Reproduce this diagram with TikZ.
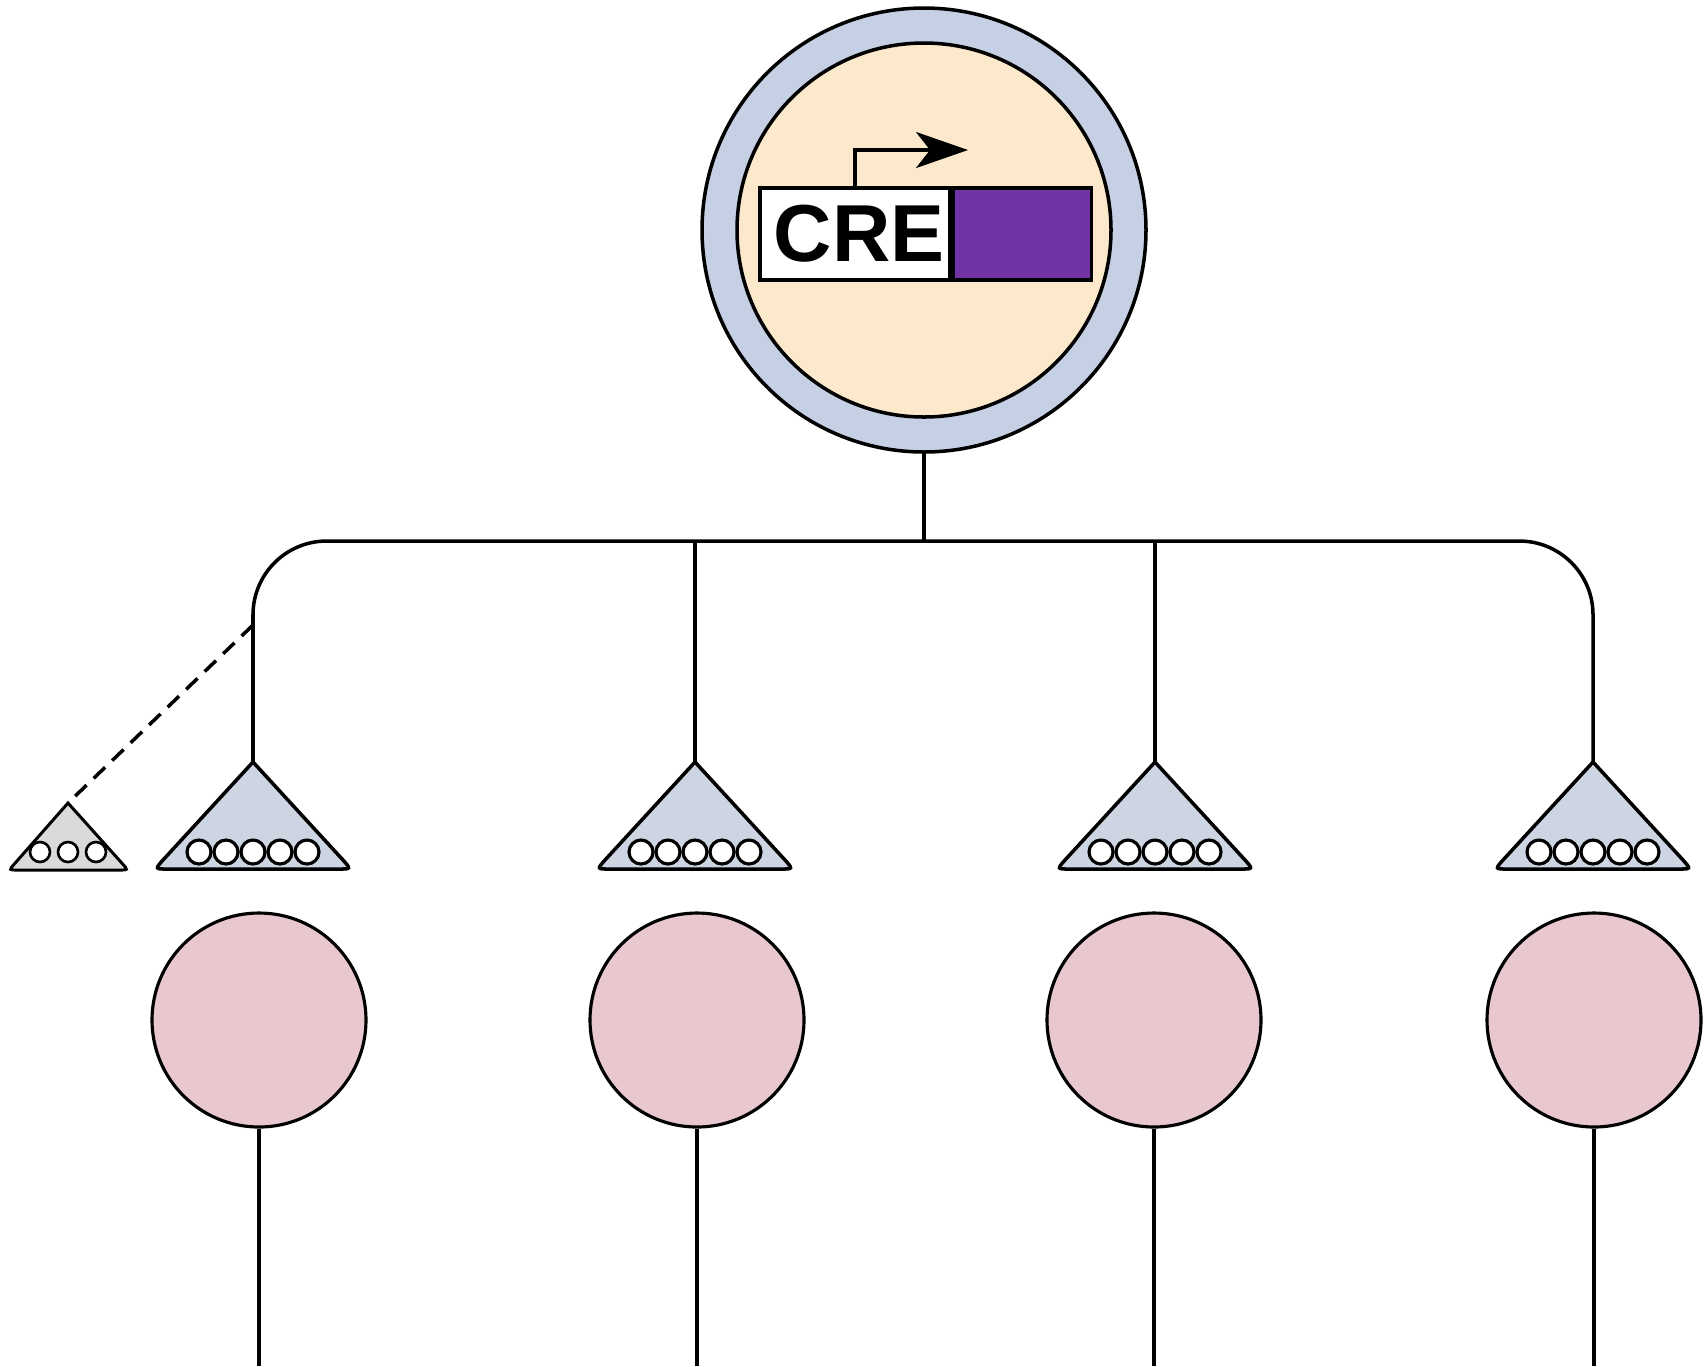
\documentclass[tikz,border=0pt]{standalone}
\usepackage{fontspec}
\setmainfont{Liberation Sans}
\usepackage{tikz}
\usetikzlibrary{arrows.meta, positioning, calc}
\definecolor{ringblue}{RGB}{197,208,228}
\definecolor{cellcream}{RGB}{252,232,202}
\definecolor{genepurple}{RGB}{114,52,164}
\definecolor{synblue}{RGB}{205,212,226}
\definecolor{syngray}{RGB}{218,218,218}
\definecolor{targetpink}{RGB}{232,200,206}

\begin{document}
\begin{tikzpicture}[x=0.1mm,y=-0.1mm, line width=1pt,
  vesicle/.style={circle, draw, fill=white, line width=0.9pt, inner sep=0pt, minimum size=2.4mm},
  target/.style={circle, draw, fill=targetpink, line width=0.9pt, inner sep=0pt, minimum size=21.4mm}]
  \useasboundingbox (0,0) rectangle (1708,1366);
  % presynaptic cell with the CRE reporter
  \node[circle, draw, fill=ringblue, inner sep=0pt, minimum size=44.4mm] (cell) at (924,230) {};
  \node[circle, draw, fill=cellcream, inner sep=0pt, minimum size=37.4mm] (soma) at (924,230) {};
  \node[draw, fill=white, inner sep=0pt, minimum width=19mm, minimum height=9.2mm,
        font=\fontsize{23}{23}\selectfont\bfseries] (cre) at (855,234) {\hspace{0.8mm}CRE};
  \node[draw, fill=genepurple, inner sep=0pt, minimum width=13.8mm, minimum height=9.2mm,
        right=0pt of cre] (gene) {};
  \coordinate (tss) at (968,150);
  \draw[-{Stealth[length=5.2mm, width=3.6mm, inset=1.4mm]}] (cre.north) |- (tss);
  % axon branches
  \coordinate (hub) at (924,541);
  \draw (cell.south) -- (hub);
  \foreach \i/\x in {1/253, 2/695, 3/1155, 4/1593}
    \coordinate (syn\i) at (\x,762);
  \draw[rounded corners=21pt] (syn1) -- (253,541) -- (1593,541) -- (syn4);
  \coordinate (br2) at (695,541); \coordinate (br3) at (1155,541);
  \draw (br2) -- (syn2); \draw (br3) -- (syn3);
  % terminals (base corners rounded, apex sharp)
  \foreach \i/\x in {1/253, 2/695, 3/1155, 4/1593}{
    \draw[fill=synblue] (syn\i) -- (\x+90,860) .. controls (\x+98,869) .. (\x+86,869)
      -- (\x-86,869) .. controls (\x-98,869) .. (\x-90,860) -- cycle;
    \foreach \k in {-2,...,2}
      \node[vesicle] (v\i\k) at (\x+\k*27,852) {};
  }
  % retracting branch
  \coordinate (fork) at (253,625);
  \coordinate (syn0) at (68,803);
  \draw[fill=syngray, line width=0.85pt] (syn0) -- (122.7,864) .. controls (128,870) .. (120,870)
    -- (17,870) .. controls (9,870) .. (14.3,864) -- cycle;
  \foreach \k in {-1,0,1}
    \node[vesicle, minimum size=2mm, line width=0.75pt] (w\k) at (68+\k*28,852) {};
  \draw[dashed, dash pattern=on 4.5pt off 2.8pt] (fork) -- (syn0);
  % postsynaptic cells
  \foreach \i/\x in {1/259, 2/697, 3/1154, 4/1594}{
    \node[target] (tgt\i) at (\x,1020) {};
    \coordinate (out\i) at (\x,1366);
    \draw (tgt\i.south) -- (out\i);
  }
\end{tikzpicture}
\end{document}
